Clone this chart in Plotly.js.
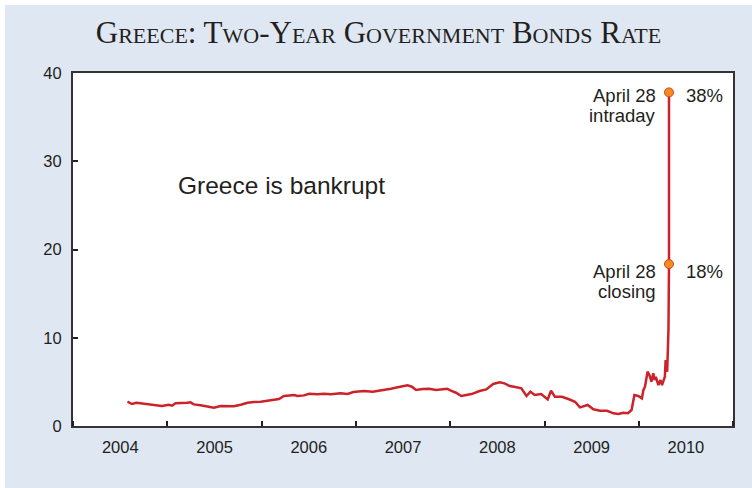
<!DOCTYPE html>
<html>
<head>
<meta charset="utf-8">
<script src="https://cdn.plot.ly/plotly-3.0.1.min.js"></script>
<style>
  html, body { margin: 0; padding: 0; background: #ffffff; width: 752px; height: 488px; overflow: hidden; }
  #chart { position: absolute; left: 5px; top: 5px; width: 747px; height: 483px; }
</style>
</head>
<body>
<div id="chart"></div>
<script>
// Greek two-year government bond yield, %
const dates = [
  "2004-07-30","2004-08-16","2004-09-03","2004-10-07","2004-11-08","2004-12-10",
  "2005-01-06","2005-01-19","2005-02-01","2005-02-25","2005-03-18","2005-03-31",
  "2005-04-13","2005-05-09","2005-06-03","2005-06-30","2005-07-26","2005-08-19",
  "2005-09-15","2005-10-12","2005-11-07","2005-12-02","2005-12-28",
  "2006-01-23","2006-02-17","2006-03-09","2006-03-28","2006-04-17","2006-05-08",
  "2006-05-19","2006-06-14","2006-07-04","2006-08-04","2006-08-31","2006-09-26",
  "2006-11-03","2006-11-30","2006-12-22",
  "2007-02-02","2007-03-07","2007-04-09","2007-05-17","2007-06-12","2007-07-09",
  "2007-07-20","2007-08-06","2007-08-22","2007-09-17","2007-10-12","2007-11-08",
  "2007-11-27","2007-12-20",
  "2008-01-04","2008-01-24","2008-02-13","2008-03-03","2008-03-24","2008-04-24",
  "2008-05-20","2008-06-16","2008-07-11","2008-07-30","2008-08-19","2008-09-15",
  "2008-10-03","2008-10-23","2008-11-07","2008-11-24","2008-12-19",
  "2009-01-13","2009-01-26","2009-02-10","2009-03-09","2009-04-03","2009-04-29",
  "2009-05-18","2009-05-29","2009-06-17","2009-07-09","2009-08-04","2009-08-31",
  "2009-09-25","2009-10-14","2009-11-02","2009-11-20","2009-12-04","2009-12-15",
  "2009-12-30",
  "2010-01-13","2010-01-19","2010-01-25","2010-02-04","2010-02-11","2010-02-19",
  "2010-02-26","2010-03-04","2010-03-08","2010-03-18","2010-03-26","2010-04-01",
  "2010-04-12","2010-04-15","2010-04-21","2010-04-23","2010-04-26","2010-04-27",
  "2010-04-28","2010-04-28"
];
const yields = [
  2.75,2.49,2.64,2.49,2.41,2.26,
  2.41,2.30,2.57,2.57,2.64,2.68,
  2.45,2.34,2.23,2.07,2.26,2.26,
  2.23,2.41,2.64,2.72,2.75,
  2.87,2.94,3.06,3.40,3.43,3.51,
  3.40,3.47,3.66,3.59,3.66,3.59,
  3.70,3.62,3.85,
  3.96,3.88,4.08,4.23,4.38,4.53,
  4.61,4.45,4.08,4.19,4.23,4.08,
  4.15,4.23,
  4.00,3.77,3.40,3.54,3.62,3.96,
  4.15,4.76,4.95,4.83,4.53,4.38,
  4.27,3.40,3.88,3.51,3.62,
  3.02,4.00,3.32,3.32,3.06,2.75,
  2.11,2.19,2.38,1.89,1.73,1.73,
  1.44,1.36,1.51,1.44,1.81,3.51,
  3.40,
  3.13,4.08,4.45,6.15,5.78,5.02,
  5.97,5.21,5.58,4.64,5.21,4.64,
  5.58,7.47,6.15,7.67,10.9,14.5,
  18.35,37.8
];

// Highlighted points: April 28, 2010
const markerDates  = ["2010-04-28", "2010-04-28"];
const markerValues = [37.8, 18.35];
const markerWhen   = ["intraday", "closing"];
const markerLabels = ["38%", "18%"];

const titleText  = "Greece: Two-Year Government Bonds Rate";
const noteText   = "Greece is bankrupt";
const sourceText = "Source: Reuters Ecowin, <i>Government Benchmarks, Bid, 2 year, yield, close</i>.";

const xRange = ["2004-01-01", "2011-01-01"];
const yRange = [0, 40];

const sans = "Liberation Sans, Arial, sans-serif";
const serif = "Liberation Serif, Times New Roman, serif";
const textColor = "#231f20";

const annotations = [
  { xref: "paper", yref: "paper", x: 0.316, y: 0.68, text: noteText, showarrow: false,
    font: { family: sans, size: 24.5, color: textColor }, xanchor: "center", yanchor: "middle" },
  { xref: "container", yref: "container", x: 0.018, y: 0.016, text: sourceText, showarrow: false,
    font: { family: serif, size: 15, color: textColor }, xanchor: "left", yanchor: "bottom" }
];
markerDates.forEach((d, i) => {
  const base = i === 0 ? -3 : -7;
  annotations.push({ x: d, y: markerValues[i], text: "April 28", showarrow: false,
    xanchor: "right", yanchor: "middle", xshift: -11, yshift: base,
    font: { family: sans, size: 18.5, color: textColor } });
  annotations.push({ x: d, y: markerValues[i], text: markerWhen[i], showarrow: false,
    xanchor: "right", yanchor: "middle", xshift: -11, yshift: base - 20,
    font: { family: sans, size: 18.5, color: textColor } });
  annotations.push({ x: d, y: markerValues[i], text: markerLabels[i], showarrow: false,
    xanchor: "left", yanchor: "middle", xshift: 15, yshift: base,
    font: { family: sans, size: 18.5, color: textColor } });
});

const traces = [
  { type: "scatter", mode: "lines", x: dates, y: yields,
    line: { color: "#cc2229", width: 2.5 }, hoverinfo: "skip" },
  { type: "scatter", mode: "markers", x: markerDates, y: markerValues,
    marker: { color: "#f58a1f", size: 9, line: { color: "#d4431f", width: 1 } }, hoverinfo: "skip" }
];

const layout = {
  width: 747, height: 483,
  margin: { l: 68, r: 19, t: 68, b: 62 },
  paper_bgcolor: "#dfe7f2",
  plot_bgcolor: "#ffffff",
  showlegend: false,
  title: {
    text: titleText,
    x: 0.5, xref: "container", xanchor: "center",
    y: 0.944, yref: "container", yanchor: "middle",
    font: { family: serif, size: 31, color: textColor, variant: "small-caps" }
  },
  xaxis: {
    type: "date", range: xRange,
    tick0: "2004-01-01", dtick: "M12", tickformat: "%Y", ticklabelmode: "period",
    ticks: "inside", ticklen: 5, tickwidth: 2, tickcolor: "#231f20",
    showline: true, linecolor: "#333333", linewidth: 2, mirror: true,
    showgrid: false, zeroline: false, ticklabelstandoff: 5,
    tickfont: { family: sans, size: 16.5, color: textColor }
  },
  yaxis: {
    range: yRange, dtick: 10, tick0: 0,
    ticks: "inside", ticklen: 5, tickwidth: 2, tickcolor: "#231f20",
    showline: true, linecolor: "#333333", linewidth: 2, mirror: true,
    showgrid: false, zeroline: false, ticklabelstandoff: 6,
    tickfont: { family: sans, size: 16.5, color: textColor }
  },
  annotations: annotations
};

Plotly.newPlot("chart", traces, layout, { staticPlot: true, displayModeBar: false });
</script>
</body>
</html>
